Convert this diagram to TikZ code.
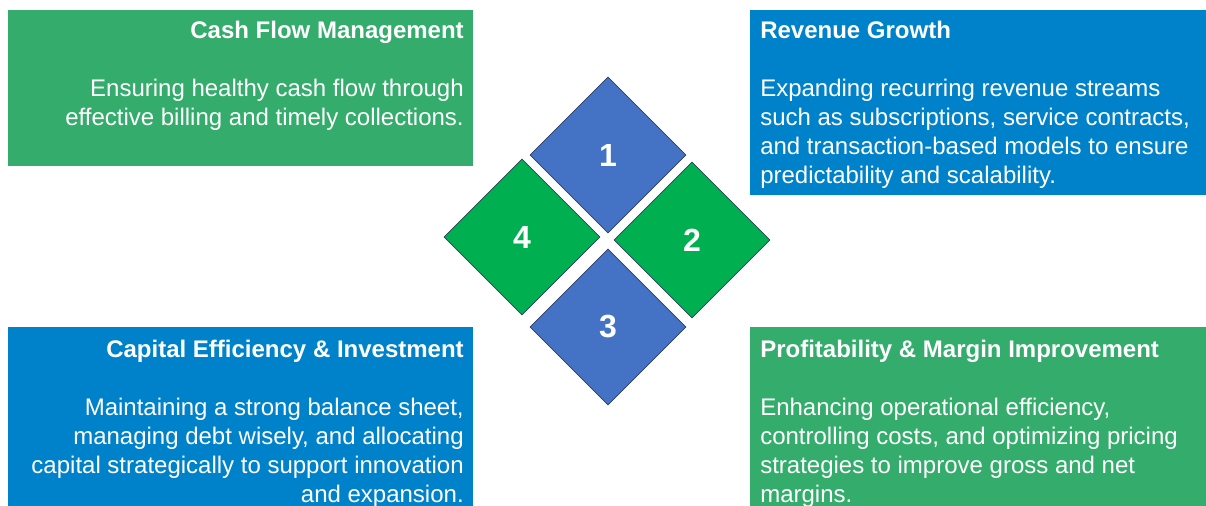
\documentclass[tikz,border=0pt]{standalone}
\usepackage{fontspec}
\setmainfont{Liberation Sans}
\usetikzlibrary{shapes.geometric}
\definecolor{boxgreen}{RGB}{52,173,108}
\definecolor{boxblue}{RGB}{0,130,202}
\definecolor{dblue}{RGB}{68,114,196}
\definecolor{dgreen}{RGB}{0,176,80}
\definecolor{dline}{RGB}{47,62,92}
\begin{document}
\begin{tikzpicture}[x=0.75pt,y=-0.75pt,
  card/.style={rectangle, anchor=north west, inner sep=0, draw=none},
  txt/.style={inner sep=0, text=white, font=\fontsize{18}{21.75}\selectfont},
  dia/.style={diamond, aspect=1, minimum width=117pt, minimum height=117pt, inner sep=0,
    draw=dline, line width=0.6pt, text=white, font=\fontsize{24}{28}\selectfont\bfseries}]
\useasboundingbox (0,0) rectangle (1206,506);
\clip (0,0) rectangle (1206,506);
% cards
\node[card, fill=boxgreen, minimum width=348.75pt, minimum height=117pt] (cf) at (8,10) {};
\node[card, fill=boxblue, minimum width=345pt, minimum height=138.75pt] (rg) at (750,10) {};
\node[card, fill=boxblue, minimum width=348.75pt, minimum height=137.25pt] (ce) at (8,327) {};
\node[card, fill=boxgreen, minimum width=345pt, minimum height=137.25pt] (pm) at (750,327) {};
% texts
\node[txt, anchor=base east] (cft) at (464,38.5) {\begin{tabular}[t]{@{}r@{}}\textbf{Cash Flow Management}\\ \\ Ensuring healthy cash flow through\\ effective billing and timely collections.\end{tabular}};
\node[txt, anchor=base west] (rgt) at (760,38.5) {\begin{tabular}[t]{@{}l@{}}\textbf{Revenue Growth}\\ \\ Expanding recurring revenue streams\\ such as subscriptions, service contracts,\\ and transaction-based models to ensure\\ predictability and scalability.\end{tabular}};
\node[txt, anchor=base east] (cet) at (464,357) {\begin{tabular}[t]{@{}r@{}}\textbf{Capital Efficiency \& Investment}\\ \\ Maintaining a strong balance sheet,\\ managing debt wisely, and allocating\\ capital strategically to support innovation\\ and expansion.\end{tabular}};
\node[txt, anchor=base west] (pmt) at (760,357) {\begin{tabular}[t]{@{}l@{}}\textbf{Profitability \& Margin Improvement}\\ \\ Enhancing operational efficiency,\\ controlling costs, and optimizing pricing\\ strategies to improve gross and net\\ margins.\end{tabular}};
% diamonds
\node[dia, fill=dblue] (d1) at (608,155) {1};
\node[dia, fill=dgreen] (d2) at (692,240) {2};
\node[dia, fill=dblue] (d3) at (608,327) {3};
\node[dia, fill=dgreen] (d4) at (522,237) {4};
\end{tikzpicture}
\end{document}
